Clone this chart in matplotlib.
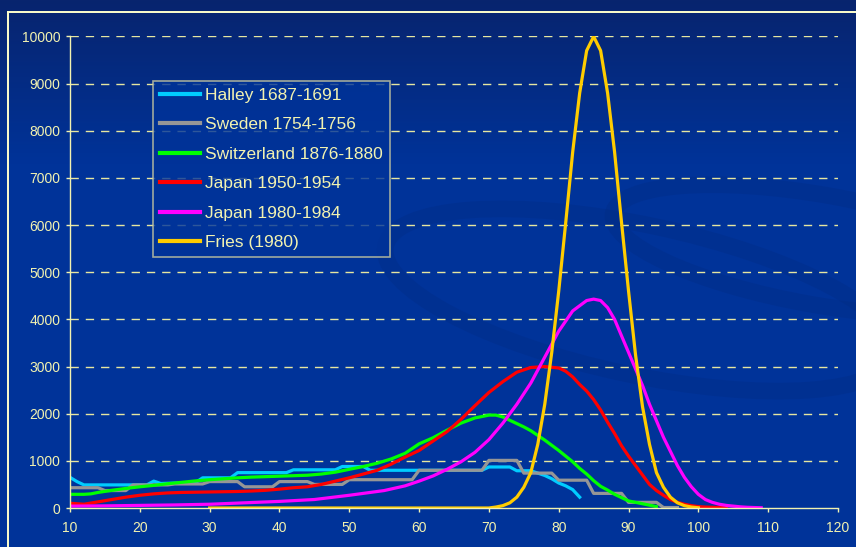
import numpy as np
import matplotlib.pyplot as plt
from matplotlib.patches import Ellipse
from matplotlib.lines import Line2D

plt.rcParams['font.family'] = ['Liberation Sans', 'DejaVu Sans']

# ── Data (survival curves, deaths per age) ─────────────────────
halley_age = [10, 11, 12, 21, 22, 23, 28, 29, 33, 34, 41, 42, 48, 49, 52, 53,
              69, 70, 73, 74, 76, 77, 78, 79, 80, 81, 82, 83]
halley_val = [650, 560, 490, 490, 570, 520, 540, 640, 640, 750, 750, 810, 810, 880, 880, 800,
              800, 870, 870, 790, 790, 740, 690, 620, 530, 470, 390, 230]

sweden_age = [10, 14, 15, 18, 19, 24, 25, 29, 30, 34, 35, 39, 40, 44, 45, 49, 50, 59,
              60, 69, 70, 74, 75, 79, 80, 84, 85, 89, 90, 94, 95, 97]
sweden_val = [430, 430, 370, 370, 490, 490, 510, 510, 560, 560, 450, 450, 560, 560, 500, 500,
              600, 600, 800, 800, 1010, 1010, 740, 740, 590, 590, 310, 310, 120, 120, 10, 10]

swiss_age = [10, 12, 13, 14, 16, 18, 20, 22, 24, 26, 28, 30, 32, 34, 36, 38, 40, 42, 44, 46,
             48, 50, 52, 54, 56, 58, 60, 62, 64, 66, 68, 70, 71, 72, 73, 74, 75, 76, 77, 78,
             79, 80, 81, 82, 83, 84, 85, 86, 87, 88, 89, 90, 91, 92, 93, 94]
swiss_val = [290, 290, 300, 330, 375, 415, 450, 480, 515, 545, 575, 600, 620, 640, 655, 665,
             675, 685, 695, 720, 760, 820, 880, 950, 1040, 1160, 1360, 1490, 1650, 1800, 1910,
             1970, 1970, 1930, 1860, 1790, 1720, 1640, 1540, 1440, 1330, 1220, 1100, 980, 840,
             720, 580, 460, 380, 290, 220, 150, 120, 90, 60, 30]

japan50_age = [10, 12, 14, 16, 18, 20, 22, 24, 26, 28, 30, 32, 34, 36, 38, 40, 42, 44, 46, 48,
               50, 52, 54, 56, 58, 60, 62, 64, 66, 68, 70, 72, 74, 76, 78, 80, 81, 82, 83, 84,
               85, 86, 87, 88, 89, 90, 91, 92, 93, 94, 95, 96, 97, 98, 99, 100, 101, 102, 103,
               104]
japan50_val = [100, 80, 130, 180, 230, 270, 300, 320, 330, 335, 340, 345, 350, 360, 375, 400,
               430, 450, 500, 570, 640, 720, 800, 930, 1080, 1220, 1420, 1620, 1880, 2170, 2450,
               2680, 2880, 2980, 3000, 2970, 2900, 2780, 2620, 2480, 2300, 2080, 1820, 1580, 1320,
               1100, 900, 700, 500, 370, 270, 180, 120, 80, 50, 30, 20, 15, 10, 5]

japan80_age = [10, 15, 20, 25, 30, 35, 40, 45, 50, 55, 58, 60, 62, 64, 66, 68, 70, 72, 74, 76,
               78, 80, 82, 84, 85, 86, 87, 88, 89, 90, 91, 92, 93, 94, 95, 96, 97, 98, 99, 100,
               101, 102, 103, 104, 105, 106, 107, 108, 109]
japan80_val = [40, 45, 55, 65, 80, 110, 140, 180, 270, 370, 470, 570, 680, 820, 980, 1180, 1450,
               1800, 2200, 2650, 3200, 3750, 4180, 4400, 4430, 4400, 4250, 4000, 3650, 3300, 2950,
               2600, 2200, 1850, 1500, 1200, 900, 650, 450, 290, 180, 120, 80, 55, 40, 25, 15, 10, 5]

fries_age = [30, 70, 71, 72, 73, 74, 75, 76, 77, 78, 79, 80, 81, 82, 83, 84, 85, 86, 87, 88, 89,
             90, 91, 92, 93, 94, 95, 96, 97, 98, 99, 100]
fries_val = [0, 0, 20, 50, 110, 230, 440, 750, 1350, 2200, 3300, 4600, 6050, 7550, 8800, 9700,
             10000, 9700, 8800, 7550, 6050, 4600, 3250, 2150, 1350, 750, 440, 230, 110, 50, 20, 5]

labels = ["Halley 1687-1691", "Sweden 1754-1756", "Switzerland 1876-1880",
          "Japan 1950-1954", "Japan 1980-1984", "Fries (1980)"]
colors = ["#00CCFF", "#969696", "#00FF00", "#FF0000", "#FF00FF", "#FFCC00"]
series = [(halley_age, halley_val), (sweden_age, sweden_val), (swiss_age, swiss_val),
          (japan50_age, japan50_val), (japan80_age, japan80_val), (fries_age, fries_val)]

pale = "#F2F2B0"
W, H = 856, 547

fig = plt.figure(figsize=(W / 100, H / 100), dpi=100)

# ── Background: slide-style blue gradient with faint swooshes ──
bg = fig.add_axes([0, 0, 1, 1], zorder=-10)
top = np.array([0x08, 0x24, 0x6E]) / 255
mid = np.array([0x00, 0x33, 0x99]) / 255
t = np.clip(np.linspace(0, 1, H) / 0.3, 0, 1)[:, None]
grad = top * (1 - t) + mid * t
bg.imshow(np.repeat(grad[:, None, :], 2, axis=1), aspect="auto", extent=[0, W, H, 0])
for (cx, cy, w, h, ang) in [(640, 300, 520, 150, 12), (820, 250, 420, 110, 10)]:
    bg.add_patch(Ellipse((cx, cy), w, h, angle=ang, fill=False, lw=12,
                         ec="#002a80", alpha=0.3))
bg.plot([8, 8], [12, H], color="#FFFFCC", lw=1.4)
bg.plot([8, W], [12, 12], color="#FFFFCC", lw=1.4)
bg.set_xlim(0, W)
bg.set_ylim(H, 0)
bg.axis("off")

# ── Main chart ─────────────────────────────────────────────────
ax = fig.add_axes([70 / W, (H - 508) / H, 768 / W, (508 - 36.5) / H])
ax.patch.set_alpha(0)
for (a, v), c, lab in zip(series, colors, labels):
    ax.plot(a, v, color=c, lw=2.3, label=lab, solid_joinstyle="round")

ax.set_xlim(10, 120)
ax.set_ylim(0, 10000)
ax.set_xticks(range(10, 121, 10))
ax.set_yticks(range(0, 10001, 1000))
for y in range(1000, 10001, 1000):
    ax.axhline(y, color="#E6E6A0", lw=1.0, dashes=(6, 5), zorder=0)

for s in ["top", "right"]:
    ax.spines[s].set_visible(False)
for s in ["left", "bottom"]:
    ax.spines[s].set_color(pale)
    ax.spines[s].set_linewidth(1.0)
ax.tick_params(axis="both", colors=pale, labelcolor=pale, labelsize=10,
               direction="out", length=3, width=1.0)
ax.tick_params(axis="y", pad=4)
ax.tick_params(axis="x", pad=6)

handles = [Line2D([0], [0], color=c, lw=3) for c in colors]
leg = fig.legend(handles, labels, loc="upper left",
                 bbox_to_anchor=(153 / W, 1 - 81 / H), bbox_transform=fig.transFigure,
                 fontsize=12.5, frameon=True, fancybox=False, borderaxespad=0,
                 borderpad=0.4, labelspacing=0.82, handlelength=2.3, handletextpad=0.3)
leg.get_frame().set_facecolor("#003399")
leg.get_frame().set_edgecolor("#C8C8A0")
leg.get_frame().set_linewidth(1.2)
for txt in leg.get_texts():
    txt.set_color(pale)

fig.savefig("out.png", dpi=100)
